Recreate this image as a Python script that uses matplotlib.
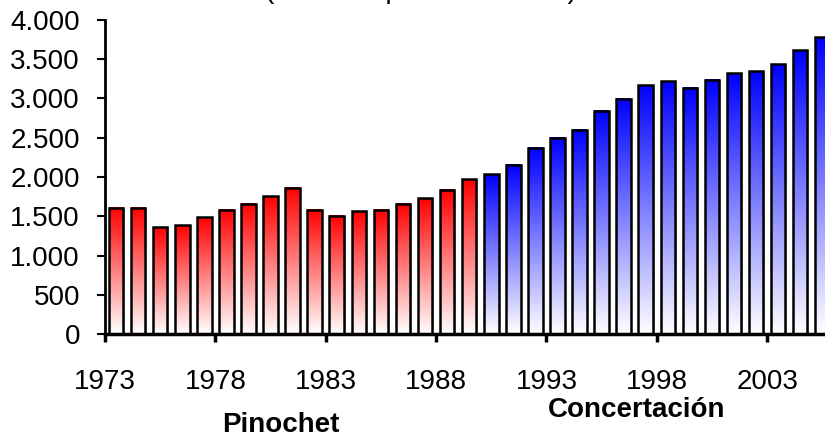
import numpy as np
import matplotlib.pyplot as plt
from matplotlib.colors import LinearSegmentedColormap

plt.rcParams["font.family"] = ["Liberation Sans", "DejaVu Sans"]

# GDP per capita
years = list(range(1973, 2006))
gdp = [1608, 1608, 1362, 1387, 1489, 1583, 1660, 1757, 1860, 1583,
       1506, 1562, 1583, 1660, 1732, 1838, 1974, 2034, 2157, 2374,
       2502, 2604, 2847, 2996, 3166, 3217, 3140, 3242, 3319, 3344,
       3438, 3613, 3783]
last_pinochet_year = 1989
tick_years = [1973, 1978, 1983, 1988, 1993, 1998, 2003]
yticks = [0, 500, 1000, 1500, 2000, 2500, 3000, 3500, 4000]
ytick_labels = ["0", "500", "1.000", "1.500", "2.000", "2.500", "3.000", "3.500", "4.000"]
title = "(miles de pesos de 2003)"
periods = ["Pinochet", "Concertación"]

red_cmap = LinearSegmentedColormap.from_list("reds", ["#ffffff", "#ff0000"])
blue_cmap = LinearSegmentedColormap.from_list("blues", ["#ffffff", "#0000ff"])
grad = np.linspace(0, 1, 256).reshape(-1, 1)

fig = plt.figure(figsize=(8.25, 4.44), dpi=100)
ax = fig.add_axes([105 / 825, 110 / 444, 1 - 105 / 825, (334 - 20) / 444])

width = 0.66
for i, (yr, val) in enumerate(zip(years, gdp)):
    x0 = i + 0.5 - width / 2
    cmap = red_cmap if yr <= last_pinochet_year else blue_cmap
    # thin grey shadow on the right
    ax.bar(i + 0.5 + 0.07, val, width=width, color="#b8b8b8", zorder=1)
    ax.imshow(grad, extent=[x0, x0 + width, 0, val], origin="lower",
              aspect="auto", cmap=cmap, zorder=2, interpolation="bilinear")
    ax.bar(i + 0.5, val, width=width, facecolor="none", edgecolor="black",
           linewidth=1.8, zorder=3)

ax.set_xlim(0, 720 / (110.35 / 5))
ax.set_ylim(0, 4000)

ax.spines["top"].set_visible(False)
ax.spines["right"].set_visible(False)
ax.spines["left"].set_linewidth(2)
ax.spines["bottom"].set_linewidth(2.5)
ax.spines["bottom"].set_zorder(5)

ax.set_yticks(yticks)
ax.set_yticklabels(ytick_labels)
tick_pos = [years.index(t) for t in tick_years]
ax.set_xticks(tick_pos)
ax.set_xticklabels([str(t) for t in tick_years])
ax.tick_params(axis="y", length=6, width=1.5, labelsize=20, pad=12)
ax.tick_params(axis="x", length=6, width=2.5, labelsize=20, pad=19)

# title sits mostly above the crop, only its descenders show
fig.text(421 / 825, 1 + 2.5 / 444, title, ha="center", va="baseline", fontsize=20)
fig.text(281 / 825, 1 - 425 / 444, periods[0], ha="center", va="center",
         fontsize=20, fontweight="bold")
fig.text(637 / 825, 1 - 410 / 444, periods[1], ha="center", va="center",
         fontsize=20, fontweight="bold")

fig.savefig("out.png", dpi=100)
plt.close(fig)
